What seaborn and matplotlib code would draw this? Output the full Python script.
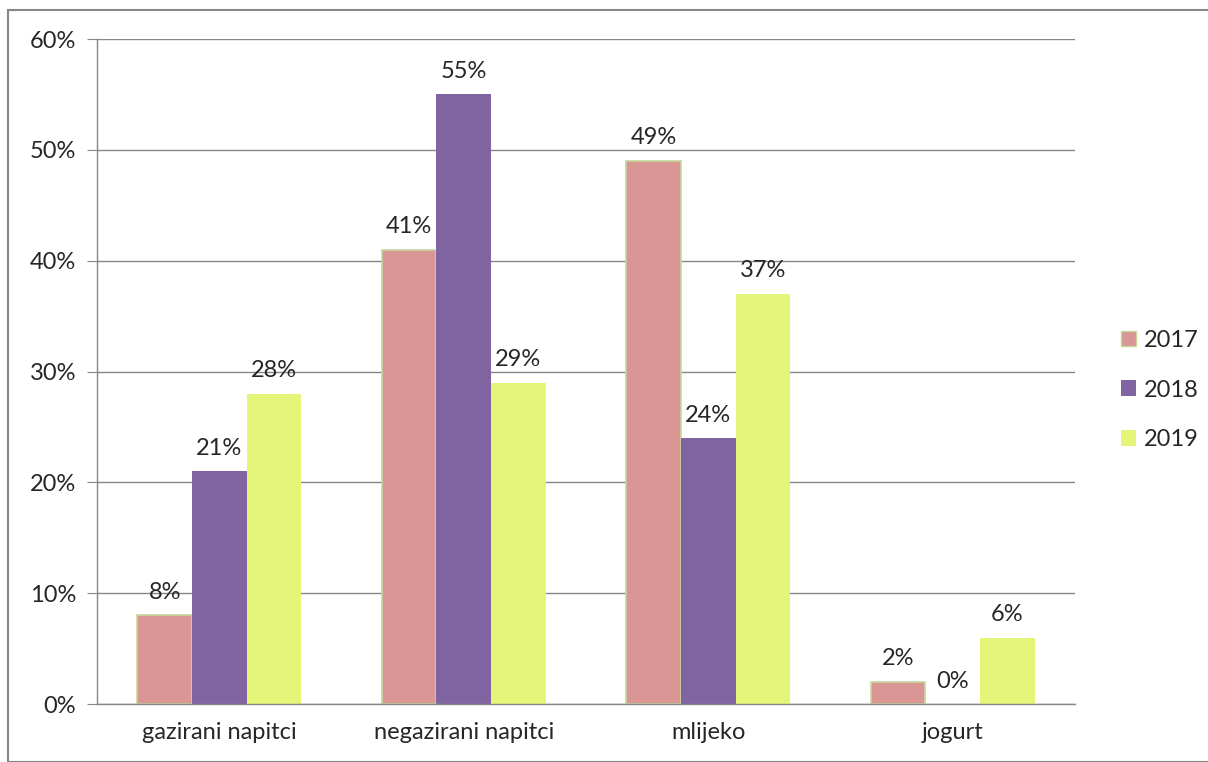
import numpy as np
import pandas as pd
import matplotlib
matplotlib.use("Agg")
import matplotlib.pyplot as plt
import seaborn as sns
from matplotlib.patches import Rectangle

categories = ["gazirani napitci", "negazirani napitci", "mlijeko", "jogurt"]
years = ["2017", "2018", "2019"]
v2017 = [8, 41, 49, 2]
v2018 = [21, 55, 24, 0]
v2019 = [28, 29, 37, 6]

df = pd.DataFrame({
    "kat": categories * 3,
    "god": [y for y in years for _ in categories],
    "val": v2017 + v2018 + v2019,
})

sns.set_style("white")
plt.rcParams["font.family"] = ["Lato", "DejaVu Sans"]
fs = 17

colors = {"2017": "#D99694", "2018": "#8064A2", "2019": "#E4F57A"}

fig = plt.figure(figsize=(12.08, 7.62), dpi=100)
ax = fig.add_axes([0.0803, 0.0761, 0.8096, 0.8727])

sns.barplot(data=df, x="kat", y="val", hue="god", palette=colors,
            width=0.67, gap=0, saturation=1, ax=ax, legend=False)

for cont, yr in zip(ax.containers, years):
    for b in cont:
        if yr == "2017":
            b.set_edgecolor("#C4D79B")
            b.set_linewidth(1.2)
        else:
            b.set_edgecolor("none")
    ax.bar_label(cont, labels=[f"{int(v)}%" for v in cont.datavalues],
                 padding=9, fontsize=fs)

ax.set_ylim(0, 60)
ax.set_xlim(-0.5, 3.5)
ax.set_yticks(np.arange(0, 61, 10))
ax.set_yticklabels([f"{t}%" for t in range(0, 61, 10)], fontsize=fs)
ax.set_xticks(range(4))
ax.set_xticklabels(categories, fontsize=fs)
ax.set_xticks(np.arange(-0.5, 4, 1), minor=True)
ax.tick_params(axis="x", which="major", length=0, pad=13)
ax.tick_params(axis="x", which="minor", length=7, color="#868686", direction="out")
ax.tick_params(axis="y", length=7, color="#868686", direction="out", left=True, pad=8)
ax.set_xlabel("")
ax.set_ylabel("")
ax.yaxis.grid(True, color="#868686", linewidth=1)
ax.set_axisbelow(True)
for s in ["top", "right"]:
    ax.spines[s].set_visible(False)
for s in ["left", "bottom"]:
    ax.spines[s].set_color("#868686")
    ax.spines[s].set_linewidth(1)

handles = [Rectangle((0, 0), 1, 1, facecolor=colors[y],
                     edgecolor="#C4D79B" if y == "2017" else "none") for y in years]
fig.legend(handles, years, loc="center left", bbox_to_anchor=(0.910, 0.488),
           frameon=False, fontsize=fs, handlelength=0.65, handleheight=0.65,
           handletextpad=0.35, labelspacing=1.22)

fig.patches.append(Rectangle((8 / 1208, 0), 1.2, 1 - 10 / 762,
                             transform=fig.transFigure, fill=False,
                             edgecolor="#868686", linewidth=1.5))

fig.savefig("out.png", dpi=100)
